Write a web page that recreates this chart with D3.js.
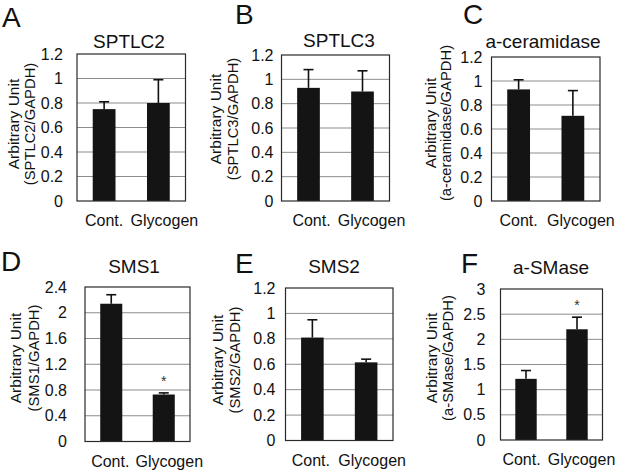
<!DOCTYPE html>
<html>
<head>
<meta charset="utf-8">
<script src="https://cdn.jsdelivr.net/npm/d3@7"></script>
<style>
  html, body { margin: 0; padding: 0; background: #fff; }
  svg { display: block; font-family: "Liberation Sans", Arial, sans-serif; }
</style>
</head>
<body>
<svg id="chart" width="617" height="472"></svg>
<script>
// ---------- DATA ----------
const categories = ["Cont.", "Glycogen"];

const panelLetters = ["A", "B", "C", "D", "E", "F"];
const panelTitles = ["SPTLC2", "SPTLC3", "a-ceramidase", "SMS1", "SMS2", "a-SMase"];
const yLabelLine1 = "Arbitrary Unit";
const yLabelLine2 = ["(SPTLC2/GAPDH)", "(SPTLC3/GAPDH)", "(a-ceramidase/GAPDH)", "(SMS1/GAPDH)", "(SMS2/GAPDH)", "(a-SMase/GAPDH)"];

const sptlc2Means = [0.75, 0.80];
const sptlc2Errors = [0.06, 0.19];
const sptlc3Means = [0.93, 0.90];
const sptlc3Errors = [0.15, 0.17];
const aCeramidaseMeans = [0.93, 0.71];
const aCeramidaseErrors = [0.08, 0.21];
const sms1Means = [2.14, 0.73];
const sms1Errors = [0.14, 0.025];
const sms2Means = [0.81, 0.615];
const sms2Errors = [0.14, 0.025];
const aSMaseMeans = [1.215, 2.20];
const aSMaseErrors = [0.165, 0.24];

const sms1Significant = [false, true];
const aSMaseSignificant = [false, true];
const noSignificance = [false, false];

const ticks0to12 = [0, 0.2, 0.4, 0.6, 0.8, 1, 1.2];
const ticks0to24 = [0, 0.4, 0.8, 1.2, 1.6, 2, 2.4];
const ticks0to3 = [0, 0.5, 1, 1.5, 2, 2.5, 3];
const tickLabels0to12 = ["0", "0.2", "0.4", "0.6", "0.8", "1", "1.2"];
const tickLabels0to24 = ["0", "0.4", "0.8", "1.2", "1.6", "2", "2.4"];
const tickLabels0to3 = ["0", "0.5", "1", "1.5", "2", "2.5", "3"];

// ---------- LAYOUT (positions / styles only) ----------
const panels = [
  { means: sptlc2Means, errors: sptlc2Errors, sig: noSignificance, ticks: ticks0to12, labels: tickLabels0to12,
    box: [77, 54, 185.5, 201], tickGap: 14, letter: [2, 27], title: [129, 48], yl1: 19, yl2: 35, ylc: 124, xdx: [0, 6] },
  { means: sptlc3Means, errors: sptlc3Errors, sig: noSignificance, ticks: ticks0to12, labels: tickLabels0to12,
    box: [281.5, 55, 389.5, 201], tickGap: 8, letter: [235, 24], title: [339, 47], yl1: 221, yl2: 238, ylc: 119, xdx: [3, 9] },
  { means: aCeramidaseMeans, errors: aCeramidaseErrors, sig: noSignificance, ticks: ticks0to12, labels: tickLabels0to12,
    box: [491.5, 57, 600, 201], tickGap: 9, letter: [463, 24], title: [543, 48], yl1: 436, yl2: 451, ylc: 123, xdx: [0, 8] },
  { means: sms1Means, errors: sms1Errors, sig: sms1Significant, ticks: ticks0to24, labels: tickLabels0to24,
    box: [85, 287, 190, 441.5], tickGap: 18, letter: [1, 271], title: [134, 273], yl1: 21, yl2: 39, ylc: 358, xdx: [-1, 5.5] },
  { means: sms2Means, errors: sms2Errors, sig: noSignificance, ticks: ticks0to12, labels: tickLabels0to12,
    box: [285.5, 288, 393, 440.5], tickGap: 10, letter: [235, 273], title: [334, 273], yl1: 223, yl2: 240, ylc: 360, xdx: [-1.5, 6] },
  { means: aSMaseMeans, errors: aSMaseErrors, sig: aSMaseSignificant, ticks: ticks0to3, labels: tickLabels0to3,
    box: [500.5, 289, 602.5, 440], tickGap: 15, letter: [461, 273], title: [551, 274], yl1: 437, yl2: 453, ylc: 358, xdx: [-4.5, 4.5] }
];

const svg = d3.select("#chart");
const barColor = "#141414";
const gridColor = "#8c8c8c";
const boxColor = "#2a2a2a";
const textColor = "#111";

panels.forEach((p, i) => {
  const [x0, y0, x1, y1] = p.box;
  const g = svg.append("g");

  const x = d3.scaleBand().domain(categories).range([x0, x1]).paddingInner(0.58).paddingOuter(0.29);
  const y = d3.scaleLinear().domain([p.ticks[0], p.ticks[p.ticks.length - 1]]).range([y1, y0]);

  // gridlines
  g.append("g")
    .selectAll("line")
    .data(p.ticks.slice(1, -1))
    .join("line")
    .attr("x1", x0).attr("x2", x1)
    .attr("y1", d => y(d)).attr("y2", d => y(d))
    .attr("stroke", gridColor).attr("stroke-width", 1);

  // error bars (upward only)
  const eg = g.append("g").attr("stroke", "#111").attr("stroke-width", 1.6);
  categories.forEach((c, k) => {
    const cx = x(c) + x.bandwidth() / 2;
    eg.append("line").attr("x1", cx).attr("x2", cx)
      .attr("y1", y(p.means[k])).attr("y2", y(p.means[k] + p.errors[k]));
    eg.append("line").attr("x1", cx - 5).attr("x2", cx + 5)
      .attr("y1", y(p.means[k] + p.errors[k])).attr("y2", y(p.means[k] + p.errors[k]));
  });

  // bars
  g.append("g")
    .selectAll("rect")
    .data(categories)
    .join("rect")
    .attr("x", c => x(c))
    .attr("width", x.bandwidth())
    .attr("y", (c, k) => y(p.means[k]))
    .attr("height", (c, k) => y(0) - y(p.means[k]))
    .attr("fill", barColor);

  // significance stars
  categories.forEach((c, k) => {
    if (p.sig[k]) {
      g.append("text")
        .attr("x", x(c) + x.bandwidth() / 2)
        .attr("y", y(p.means[k] + p.errors[k]) - 7)
        .attr("text-anchor", "middle")
        .attr("font-size", 14)
        .attr("fill", "#333")
        .text("*");
    }
  });

  // box
  g.append("rect")
    .attr("x", x0).attr("y", y0)
    .attr("width", x1 - x0).attr("height", y1 - y0)
    .attr("fill", "none").attr("stroke", boxColor).attr("stroke-width", 1.2);

  // y axis (labels only)
  const ya = g.append("g").attr("transform", `translate(${x0},0)`)
    .call(d3.axisLeft(y).tickValues(p.ticks).tickSize(0).tickPadding(p.tickGap)
      .tickFormat((d, k) => p.labels[k]));
  ya.select(".domain").remove();
  ya.selectAll("text").attr("font-size", 16).attr("fill", textColor)
    .attr("font-family", "'Liberation Sans', Arial, sans-serif");

  // x axis (labels only)
  const xa = g.append("g").attr("transform", `translate(0,${y1})`)
    .call(d3.axisBottom(x).tickSize(0).tickPadding(14));
  xa.select(".domain").remove();
  xa.selectAll("text").attr("font-size", 16).attr("fill", textColor)
    .attr("font-family", "'Liberation Sans', Arial, sans-serif")
    .attr("dx", (d, k) => p.xdx[k]);

  // title
  g.append("text")
    .attr("x", p.title[0]).attr("y", p.title[1])
    .attr("text-anchor", "middle")
    .attr("font-size", 19).attr("fill", textColor)
    .text(panelTitles[i]);

  // panel letter
  g.append("text")
    .attr("x", p.letter[0]).attr("y", p.letter[1])
    .attr("font-size", 28).attr("fill", textColor)
    .text(panelLetters[i]);

  // y label (two lines, rotated)
  g.append("text")
    .attr("transform", `translate(${p.yl1},${p.ylc}) rotate(-90)`)
    .attr("text-anchor", "middle")
    .attr("font-size", 15.5).attr("fill", textColor)
    .text(yLabelLine1);
  g.append("text")
    .attr("transform", `translate(${p.yl2},${p.ylc}) rotate(-90)`)
    .attr("text-anchor", "middle")
    .attr("font-size", 14.8).attr("fill", textColor)
    .text(yLabelLine2[i]);
});
</script>
</body>
</html>
